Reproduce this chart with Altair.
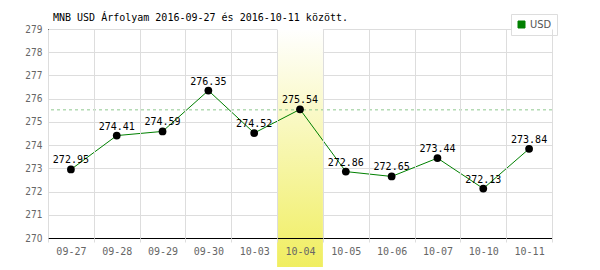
import altair as alt
import pandas as pd

dates = ["09-27", "09-28", "09-29", "09-30", "10-03", "10-04",
         "10-05", "10-06", "10-07", "10-10", "10-11"]
values = [272.95, 274.41, 274.59, 276.35, 274.52, 275.54,
          272.86, 272.65, 273.44, 272.13, 273.84]
series_name = "USD"
highlight_date = "10-04"
y_ticks = list(range(270, 280))
title_text = "MNB USD Árfolyam 2016-09-27 és 2016-10-11 között."

df = pd.DataFrame({"date": dates, "value": values, "series": series_name})
df["label"] = df["value"].map(lambda v: f"{v:.2f}")
hl = df[df["date"] == highlight_date]

MONO = "DejaVu Sans Mono"

x_axis = alt.Axis(title=None, labelAngle=0, labelFont=MONO, labelFontSize=10,
                  labelColor="#666", labelPadding=4, tickBand="extent",
                  tickSize=4, tickColor="#ddd", grid=True, gridColor="#ddd",
                  domain=False)
x_enc = alt.X("date:N", sort=dates,
              scale=alt.Scale(paddingInner=0, paddingOuter=0), axis=x_axis)
y_scale = alt.Scale(domain=[270, 279], nice=False, zero=False)
y_axis = alt.Axis(title=None, values=y_ticks, labelFont="DejaVu Sans Condensed",
                  labelFontSize=10, labelColor="#666", labelPadding=6,
                  ticks=False, grid=True, gridColor="#ddd", domain=False)
y_enc = alt.Y("value:Q", scale=y_scale, axis=y_axis)

base = alt.Chart(df)

band = alt.Chart(hl).mark_rect(
    color=alt.Gradient(gradient="linear",
                       stops=[alt.GradientStop(color="#ffffff", offset=0),
                              alt.GradientStop(color="#f0ee60", offset=1)],
                       x1=0, x2=0, y1=0, y2=1)
).encode(x=x_enc, y=alt.value(0), y2=alt.value(238))

ref = alt.Chart(hl).mark_rule(color="#8fc98f", strokeDash=[3, 3], strokeWidth=1,
                              yOffset=0.5).encode(y=y_enc)

axis_df = pd.DataFrame({"value": [270]})
xline = alt.Chart(axis_df).mark_rule(color="black", strokeWidth=1, yOffset=0.5).encode(
    y=y_enc)
yline = alt.Chart(axis_df).mark_rule(color="black", strokeWidth=1, xOffset=0.5).encode(
    x=alt.value(0))

line = base.mark_line(strokeWidth=1).encode(
    x=x_enc, y=y_enc,
    color=alt.Color("series:N", scale=alt.Scale(domain=[series_name], range=["#008000"]),
                    legend=alt.Legend(title=None, orient="none", legendX=463, legendY=-15,
                                      symbolType="square", symbolSize=49,
                                      symbolFillColor="#008000", symbolStrokeColor="#333",
                                      symbolStrokeWidth=1,
                                      labelFont="DejaVu Sans Condensed", labelFontSize=11,
                                      labelColor="#555", labelOffset=3,
                                      strokeColor="#ddd", fillColor="white", padding=5)))

pts = base.mark_circle(size=60, color="black", opacity=1).encode(x=x_enc, y=y_enc)

labels = base.mark_text(font=MONO, fontSize=10, color="black", dy=-6,
                        baseline="alphabetic", align="center").encode(
    x=x_enc, y=y_enc, text="label:N")

chart = alt.layer(band, ref, line, pts, labels, xline, yline).properties(
    width=504, height=209,
    title=alt.TitleParams(title_text, anchor="start", frame="group", font=MONO,
                          fontSize=10, fontWeight="normal", color="black", dx=5,
                          offset=5, dy=24, baseline="bottom"),
    autosize=alt.AutoSizeParams(type="none"),
    padding={"left": 48, "top": 29, "right": 48, "bottom": 32},
).configure_view(stroke=None).configure(background="white")

chart.save("out.html", embed_options={"renderer": "svg", "actions": False})
